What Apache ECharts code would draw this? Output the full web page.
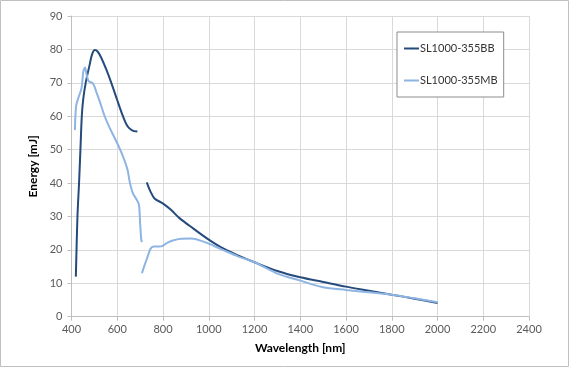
<!DOCTYPE html>
<html><head><meta charset="utf-8">
<script src="https://cdn.jsdelivr.net/npm/echarts@6/dist/echarts.min.js"></script>
<style>html,body{margin:0;padding:0;background:#fff}#c{width:570px;height:368px}</style>
</head><body><div id="c"></div>
<script>
const xTicks = [400,600,800,1000,1200,1400,1600,1800,2000,2200,2400];
const seriesNames = ['SL1000-355BB','SL1000-355MB'];
const bbPart1 = [[419,12],[426,30],[433,40],[439,50],[445,60],[451,65],[462,70],[478,75],[490,78.5],[502,79.8],[515,79.3],[530,77.5],[552,74],[574,70],[599,65],[625,60],[645,57],[665,55.8],[688,55.4]];
const bbPart2 = [[729,40.2],[745,37.5],[763,35.4],[799,33.9],[836,31.9],[872,29.5],[930,26.5],[995,23.3],[1061,20.5],[1130,18.3],[1200,16.3],[1300,13.7],[1400,11.8],[1500,10.4],[1600,9.0],[1700,7.8],[1800,6.6],[1900,5.4],[2000,4.1]];
const mbPart1 = [[415,55.9],[420,63],[430,65.5],[444,68.5],[452,73.5],[459,74.6],[466,72.5],[475,70.5],[494,69.8],[510,67],[523,64.5],[545,60],[567,56.5],[596,52.5],[625,48],[645,44],[654,40.5],[668,37],[685,35],[695,33.5],[700,28],[705,23],[708,22.3]];
const mbPart2 = [[708,13],[720,15.5],[734,18.2],[745,20.3],[759,21],[780,21],[799,21.2],[820,22.2],[843,22.8],[879,23.3],[920,23.4],[945,23.2],[995,22],[1061,20],[1130,18],[1200,16.3],[1300,12.9],[1400,10.8],[1500,8.8],[1600,8.0],[1700,7.3],[1800,6.6],[1900,5.5],[2000,4.3]];

const colors = ['#254a7c','#8db4e2'];
const font = 'Lato, "Open Sans", "Liberation Sans", sans-serif';
function line(name, data, color){
  return {name, type:'line', data, smooth:0.3, symbol:'none', showSymbol:false,
    lineStyle:{color, width:2}, itemStyle:{color}, animation:false};
}
const chart = echarts.init(document.getElementById('c'));
chart.setOption({
  animation:false,
  grid:{left:71.5, right:41, top:16, bottom:51.3},
  xAxis:{type:'value', min:xTicks[0], max:xTicks[xTicks.length-1], interval:200,
    name:'Wavelength [nm]', nameLocation:'middle', nameGap:25,
    nameTextStyle:{fontFamily:font, fontSize:12, fontWeight:'bold', color:'#000'},
    axisLine:{lineStyle:{color:'#bfbfbf'}},
    axisTick:{show:true, length:4, lineStyle:{color:'#bfbfbf'}},
    axisLabel:{fontFamily:font, fontSize:11, color:'#595959', margin:7, formatter:v=>String(v)},
    splitLine:{lineStyle:{color:'#d9d9d9'}}},
  yAxis:{type:'value', min:0, max:90, interval:10,
    name:'Energy [mJ]', nameLocation:'middle', nameGap:30,
    nameTextStyle:{fontFamily:font, fontSize:12, fontWeight:'bold', color:'#000'},
    axisLine:{show:true, lineStyle:{color:'#bfbfbf'}},
    axisTick:{show:true, length:4, lineStyle:{color:'#bfbfbf'}},
    axisLabel:{fontFamily:font, fontSize:11, color:'#595959', margin:9},
    splitLine:{lineStyle:{color:'#d9d9d9'}}},
  legend:{data:seriesNames, orient:'vertical', left:397, top:32,
    padding:[11,6,11,6], itemGap:21, itemWidth:15, itemHeight:2, itemStyle:{opacity:1},
    backgroundColor:'#fff', borderColor:'#8c8c8c', borderWidth:1,
    textStyle:{fontFamily:font, fontSize:11, color:'#333', padding:[0,0,0,-4]}},
  graphic:[{type:'rect', shape:{x:0.5,y:0.5,width:568,height:366}, style:{fill:'none', stroke:'#c0c0c0', lineWidth:1}, silent:true}],
  series:[
    line(seriesNames[0], bbPart1, colors[0]),
    line(seriesNames[0], bbPart2, colors[0]),
    line(seriesNames[1], mbPart1, colors[1]),
    line(seriesNames[1], mbPart2, colors[1])
  ]
});
</script></body></html>
